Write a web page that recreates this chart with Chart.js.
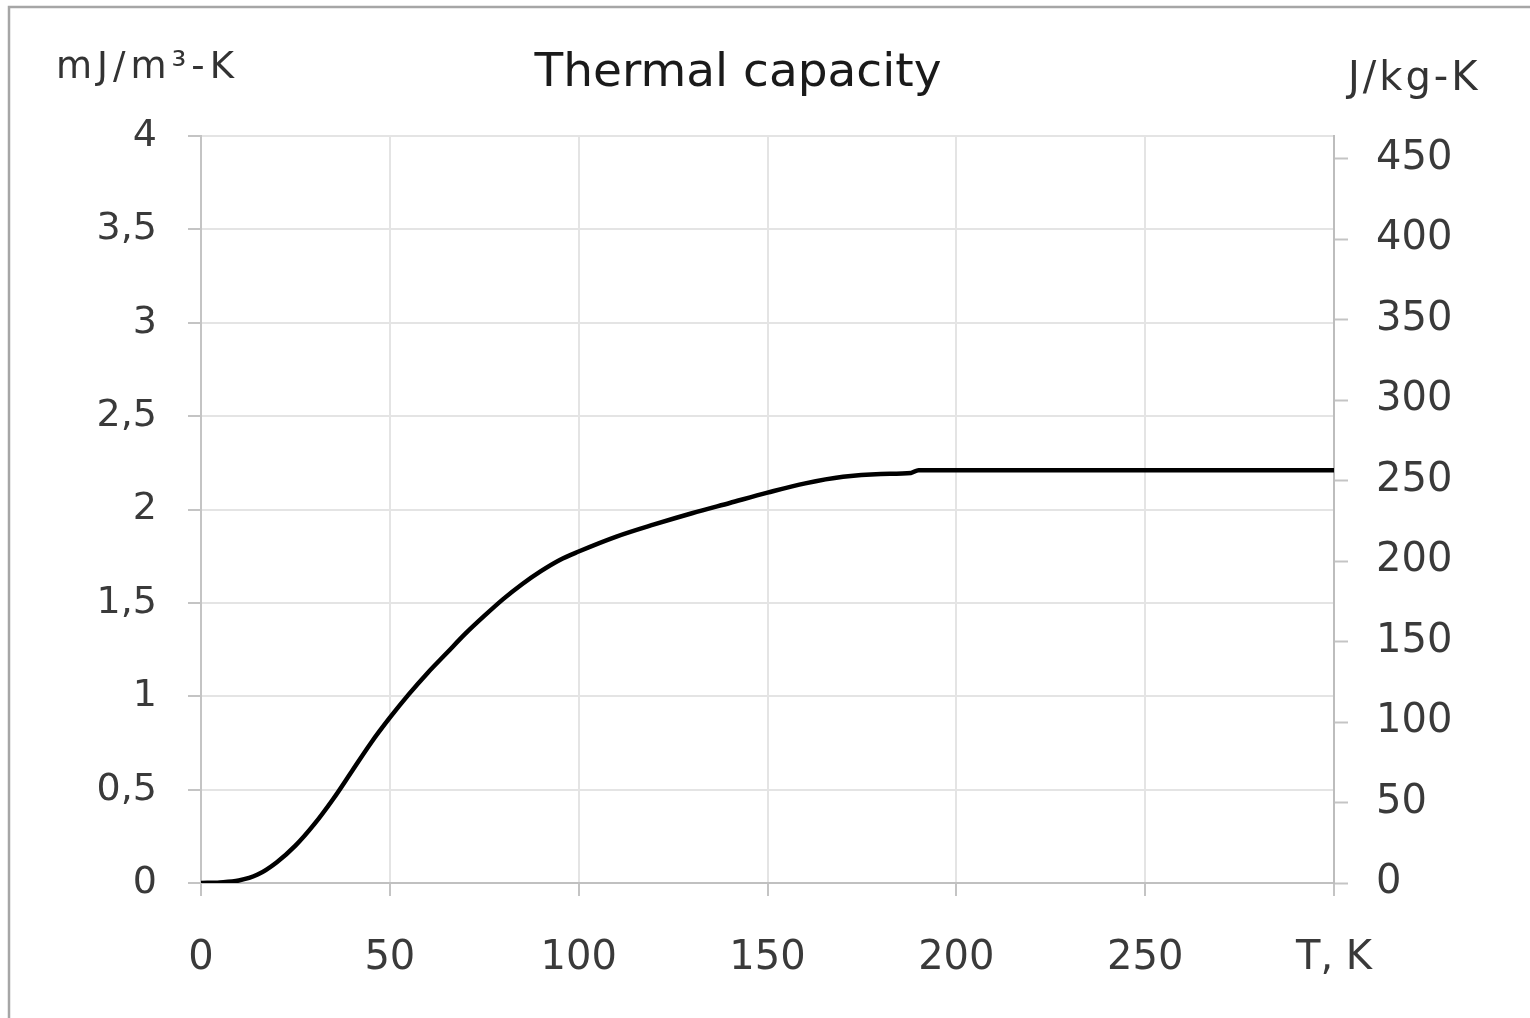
<!DOCTYPE html>
<html>
<head>
<meta charset="utf-8">
<script src="https://cdn.jsdelivr.net/npm/chart.js@4.4.1/dist/chart.umd.min.js"></script>
<style>
html,body{margin:0;padding:0;background:#ffffff;}
#wrap{position:relative;width:1530px;height:1018px;}
canvas{display:block;}
</style>
</head>
<body>
<div id="wrap"><canvas id="c" width="1530" height="1018"></canvas></div>
<script>
// ---- data ----
const temperatureK = [0, 5, 10, 15, 20, 25, 30, 35, 40, 45, 50, 55, 60, 65, 70, 75, 80, 85, 90, 95, 100, 110, 120, 130, 140, 150, 160, 170, 180, 188, 190, 200, 250, 300];
const capacityMJ   = [0, 0.003, 0.013, 0.045, 0.11, 0.2, 0.315, 0.45, 0.6, 0.75, 0.885, 1.01, 1.125, 1.23, 1.335, 1.43, 1.52, 1.6, 1.67, 1.73, 1.775, 1.855, 1.92, 1.98, 2.035, 2.09, 2.14, 2.175, 2.19, 2.196, 2.21, 2.21, 2.21, 2.21];

const xTicks = [0, 50, 100, 150, 200, 250, 300];
const xTickLabels = ['0', '50', '100', '150', '200', '250', 'T, K'];
const leftTicks = [0, 0.5, 1, 1.5, 2, 2.5, 3, 3.5, 4];
const leftTickLabels = ['0', '0,5', '1', '1,5', '2', '2,5', '3', '3,5', '4'];
const rightTicks = [0, 50, 100, 150, 200, 250, 300, 350, 400, 450];
const rightTickLabels = ['0', '50', '100', '150', '200', '250', '300', '350', '400', '450'];
const rightAxisMax = 464;

const chartTitle = 'Thermal capacity';
const leftUnit = 'mJ/m³-K';
const rightUnit = 'J/kg-K';

// ---- chart ----
const FONT = "'DejaVu Sans', sans-serif";
const points = temperatureK.map((t, i) => ({ x: t, y: capacityMJ[i] }));

const decorPlugin = {
  id: 'decor',
  beforeDraw(chart) {
    const ctx = chart.ctx;
    ctx.save();
    ctx.fillStyle = '#ffffff';
    ctx.fillRect(0, 0, chart.width, chart.height);
    ctx.strokeStyle = '#a6a6a6';
    ctx.lineWidth = 2.5;
    ctx.beginPath();
    ctx.moveTo(chart.width, 7);
    ctx.lineTo(9, 7);
    ctx.lineTo(9, chart.height);
    ctx.stroke();
    ctx.restore();
  },
  afterDraw(chart) {
    const ctx = chart.ctx;
    ctx.save();
    ctx.textBaseline = 'alphabetic';
    // title
    ctx.fillStyle = '#1a1a1a';
    ctx.textAlign = 'center';
    ctx.font = "47px " + FONT;
    ctx.letterSpacing = '0px';
    ctx.fillText(chartTitle, 738, 86);
    // unit labels
    ctx.fillStyle = '#333333';
    ctx.textAlign = 'left';
    ctx.font = "37px " + FONT;
    ctx.letterSpacing = '5px';
    ctx.fillText(leftUnit, 56, 78);
    ctx.font = "40px " + FONT;
    ctx.letterSpacing = '3px';
    ctx.fillText(rightUnit, 1348, 90);
    ctx.restore();
  }
};

new Chart(document.getElementById('c'), {
  type: 'line',
  data: {
    datasets: [{
      data: points,
      borderColor: '#000000',
      borderWidth: 4.5,
      pointRadius: 0,
      fill: false,
      cubicInterpolationMode: 'monotone',
      yAxisID: 'y'
    }]
  },
  options: {
    responsive: false,
    animation: false,
    devicePixelRatio: 1,
    layout: { padding: { top: 136, left: 0, right: 0, bottom: 0 } },
    plugins: {
      legend: { display: false },
      tooltip: { enabled: false },
      title: { display: false }
    },
    scales: {
      x: {
        type: 'linear',
        min: 0,
        max: 300,
        afterBuildTicks: s => { s.ticks = xTicks.map(v => ({ value: v })); },
        afterFit: s => { s.height = 135; },
        ticks: {
          callback: (v, i) => xTickLabels[i],
          color: '#3a3a3a',
          font: { family: FONT, size: 40 },
          padding: 39,
          maxRotation: 0,
          autoSkip: false
        },
        grid: { color: '#e4e4e4', lineWidth: 2, tickLength: 13, tickColor: '#c4c4c4', tickWidth: 2 },
        border: { color: '#c0c0c0', width: 2 }
      },
      y: {
        position: 'left',
        min: 0,
        max: 4,
        afterBuildTicks: s => { s.ticks = leftTicks.map(v => ({ value: v })); },
        afterFit: s => { s.width = 201; },
        ticks: {
          callback: (v, i) => leftTickLabels[i],
          color: '#3a3a3a',
          font: { family: FONT, size: 38 },
          padding: 31,
          autoSkip: false
        },
        grid: { color: '#e4e4e4', lineWidth: 2, tickLength: 13, tickColor: '#c4c4c4', tickWidth: 2 },
        border: { color: '#c4c4c4', width: 2 }
      },
      y2: {
        position: 'right',
        min: 0,
        max: rightAxisMax,
        afterBuildTicks: s => { s.ticks = rightTicks.map(v => ({ value: v })); },
        afterFit: s => { s.width = 196; },
        ticks: {
          callback: (v, i) => rightTickLabels[i],
          color: '#3a3a3a',
          font: { family: FONT, size: 40 },
          padding: 28,
          autoSkip: false
        },
        grid: { drawOnChartArea: false, tickLength: 14, tickColor: '#c4c4c4', tickWidth: 2 },
        border: { color: '#bdbdbd', width: 2 }
      }
    }
  },
  plugins: [decorPlugin]
});
</script>
</body>
</html>
